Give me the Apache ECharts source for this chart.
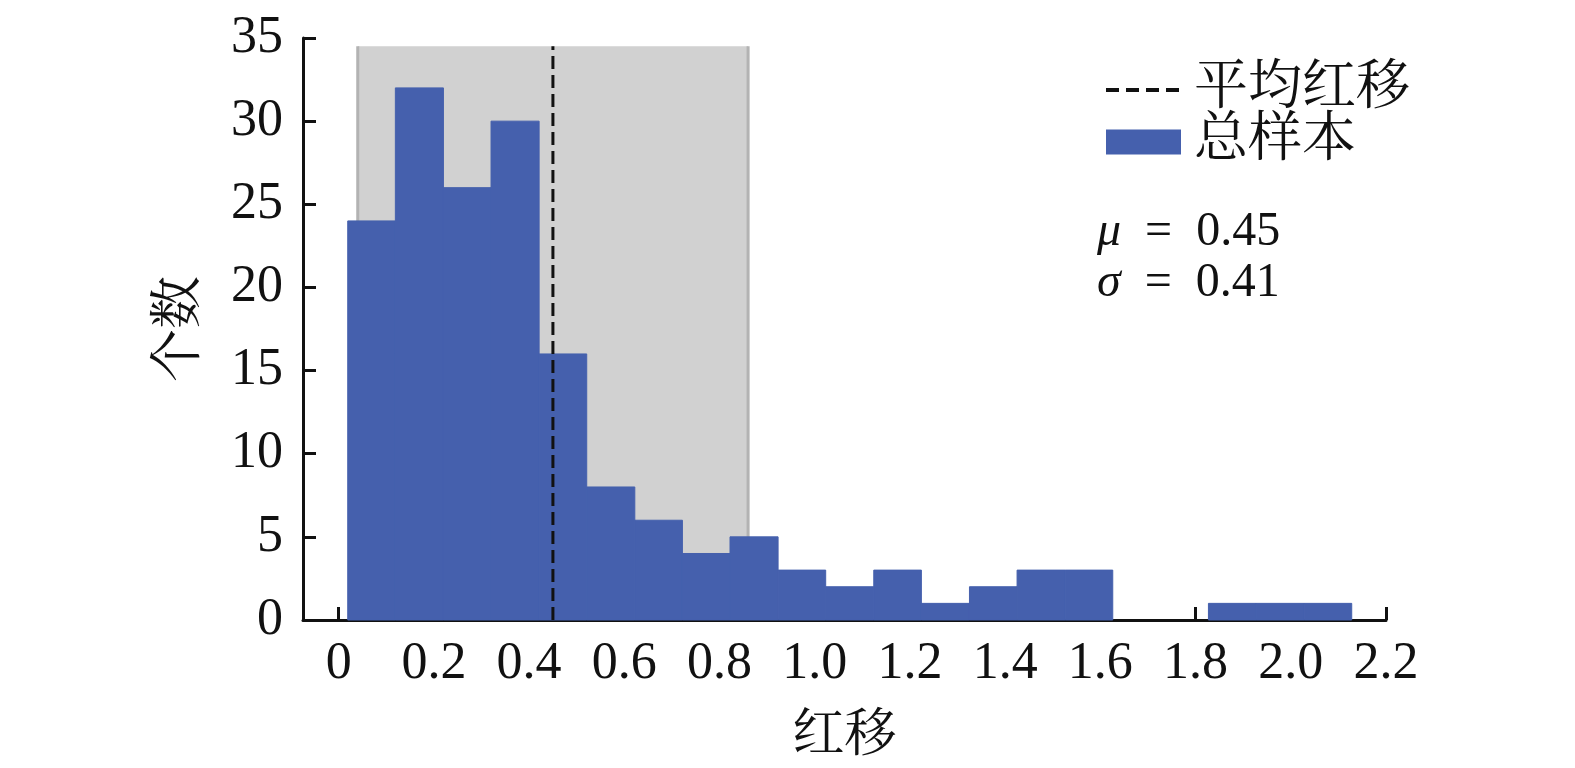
<!DOCTYPE html>
<html>
<head>
<meta charset="utf-8">
<script src="https://cdn.jsdelivr.net/npm/echarts@6/dist/echarts.min.js"></script>
<style>html,body{margin:0;padding:0;background:#fff;}#c{width:1575px;height:768px;}</style>
</head>
<body>
<div id="c"></div>
<script>
// Histogram bin edges (redshift) and counts
const binEdges = [0.019, 0.119, 0.220, 0.320, 0.421, 0.521, 0.622, 0.722, 0.822, 0.923, 1.023,
                  1.124, 1.224, 1.325, 1.425, 1.526, 1.626, 1.726, 1.827, 1.927, 2.028, 2.128];
const counts = [24, 32, 26, 30, 16, 8, 6, 4, 5, 3, 2, 3, 1, 2, 3, 3, 0, 0, 1, 1, 1];
const meanZ = 0.45;
const sigmaZ = 0.41;
const bandLow = 0.04;
const bandHigh = 0.86;
const bandTop = 34.5;
const xTicks = [0, 0.2, 0.4, 0.6, 0.8, 1.0, 1.2, 1.4, 1.6, 1.8, 2.0, 2.2];
const xTickLabels = ['0', '0.2', '0.4', '0.6', '0.8', '1.0', '1.2', '1.4', '1.6', '1.8', '2.0', '2.2'];
const seriesNames = ['平均红移', '总样本'];

const serif = '"Liberation Serif", "Noto Serif CJK SC", "Noto Sans CJK SC", serif';
const ink = '#111';
const barColor = '#4560ad';

const histData = [];
for (let i = 0; i < counts.length; i++) {
  if (counts[i] > 0) histData.push([binEdges[i], binEdges[i + 1], counts[i]]);
}

const chart = echarts.init(document.getElementById('c'));
chart.setOption({
  animation: false,
  backgroundColor: '#fff',
  grid: { left: 303, right: 189, top: 38, bottom: 146 },
  xAxis: {
    type: 'value', min: -0.075, max: 2.2,
    name: '红移', nameLocation: 'middle', nameGap: 91,
    nameTextStyle: { fontSize: 52, fontFamily: serif, color: ink },
    axisLine: { show: true, onZero: false, lineStyle: { color: ink, width: 3 } },
    axisTick: { show: true, inside: true, length: 13, customValues: xTicks, lineStyle: { color: ink, width: 3 } },
    axisLabel: {
      customValues: xTicks, fontSize: 52, fontFamily: serif, color: ink, margin: 18,
      formatter: function (v) { const i = xTicks.findIndex(t => Math.abs(t - v) < 1e-6); return i >= 0 ? xTickLabels[i] : ''; }
    },
    splitLine: { show: false }
  },
  yAxis: {
    type: 'value', min: 0, max: 35, interval: 5,
    name: '个数', nameLocation: 'middle', nameGap: 95,
    nameTextStyle: { fontSize: 53, fontFamily: serif, color: ink },
    axisLine: { show: true, onZero: false, lineStyle: { color: ink, width: 3 } },
    axisTick: { show: true, inside: true, length: 13, lineStyle: { color: ink, width: 3 } },
    axisLabel: { fontSize: 52, fontFamily: serif, color: ink, margin: 20 },
    splitLine: { show: false }
  },
  legend: {
    orient: 'vertical', left: 1099, top: 58,
    itemWidth: 75, itemHeight: 25, itemGap: -2,
    textStyle: { fontSize: 54, lineHeight: 49, fontFamily: serif, color: ink, padding: [0, 0, 0, 8] },
    data: [
      { name: seriesNames[0], itemStyle: { opacity: 0 }, lineStyle: { width: 4, type: [13, 7], color: ink } },
      { name: seriesNames[1], icon: 'rect' }
    ]
  },
  graphic: [{
    type: 'text', left: 1097, top: 207,
    style: {
      text: '{i|μ}\u2002=\u2002' + meanZ.toFixed(2) + '\n{i|σ}\u2002=\u2002' + sigmaZ.toFixed(2),
      font: '48px ' + serif, fill: ink, lineHeight: 51,
      rich: { i: { fontStyle: 'italic', fontSize: 48, fontFamily: serif, fill: ink, lineHeight: 51 } }
    }
  }],
  series: [
    {
      name: 'band', type: 'custom', z: 1, silent: true,
      data: [[bandLow, bandHigh, bandTop]],
      encode: { x: [0, 1], y: 2 },
      renderItem: function (params, api) {
        const p0 = api.coord([api.value(0), api.value(2)]);
        const p1 = api.coord([api.value(1), 0]);
        return {
          type: 'group', children: [
            { type: 'rect', shape: { x: p0[0], y: p0[1], width: p1[0] - p0[0], height: p1[1] - p0[1] }, style: { fill: '#d1d1d1' } },
            { type: 'line', shape: { x1: p0[0], y1: p0[1], x2: p0[0], y2: p1[1] }, style: { stroke: '#b3b3b3', lineWidth: 3 } },
            { type: 'line', shape: { x1: p1[0], y1: p0[1], x2: p1[0], y2: p1[1] }, style: { stroke: '#b3b3b3', lineWidth: 3 } }
          ]
        };
      }
    },
    {
      name: seriesNames[1], type: 'custom', z: 2,
      itemStyle: { color: barColor },
      data: histData,
      encode: { x: [0, 1], y: 2 },
      renderItem: function (params, api) {
        const p0 = api.coord([api.value(0), api.value(2)]);
        const p1 = api.coord([api.value(1), 0]);
        return { type: 'rect', shape: { x: p0[0], y: p0[1], width: p1[0] - p0[0], height: p1[1] - p0[1] }, style: { fill: barColor, stroke: barColor, lineWidth: 1 } };
      }
    },
    {
      name: seriesNames[0], type: 'line', z: 3, symbol: 'none',
      data: [[meanZ, 0], [meanZ, bandTop]],
      itemStyle: { color: ink },
      lineStyle: { color: ink, width: 3, type: [13, 6] }
    }
  ]
});
</script>
</body>
</html>
